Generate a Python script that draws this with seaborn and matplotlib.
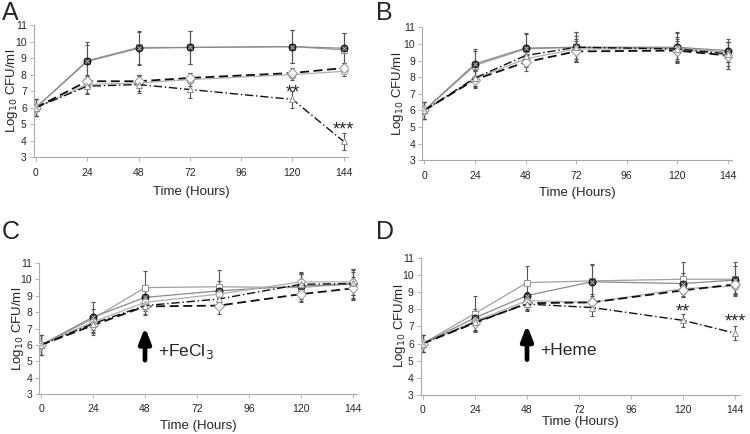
"""
Growth curves (Log10 CFU/ml over time) for four culture conditions, panels A-D
"""

import matplotlib

matplotlib.use("Agg")
import matplotlib.pyplot as plt
import seaborn as sns

# time points (hours)
TIME_AB = [0, 24, 48, 72, 120, 144]
TIME_C = [0, 24, 48, 82, 120, 144]
TIME_D = [0, 24, 48, 78, 120, 144]
X_TICKS = [0, 24, 48, 72, 96, 120, 144]
Y_TICKS = [3, 4, 5, 6, 7, 8, 9, 10, 11]

# panel A
A_SQ = [6.0, 8.85, 9.65, 9.65, 9.7, 9.5]
A_DOT = [6.0, 8.8, 9.6, 9.65, 9.7, 9.6]
A_CIR = [6.0, 7.4, 7.5, 7.7, 8.0, 8.2]
A_DIA = [6.0, 7.6, 7.6, 7.8, 8.1, 8.4]
A_TRI = [6.0, 7.3, 7.4, 7.1, 6.5, 3.95]
A_SQ_ERR = [0.5, 1.1, 1.0, 1.0, 1.0, 1.0]
A_DOT_ERR = [0.5, 1.0, 1.0, 1.0, 1.0, 0.9]
A_CIR_ERR = [0.5, 0.5, 0.5, 0.4, 0.3, 0.3]
A_DIA_ERR = [0.5, 0.4, 0.4, 0.3, 0.3, 0.3]
A_TRI_ERR = [0.5, 0.5, 0.5, 0.5, 0.5, 0.5]

# panel B
B_SQ = [6.0, 8.7, 9.7, 9.8, 9.75, 9.5]
B_DOT = [6.0, 8.8, 9.75, 9.8, 9.8, 9.6]
B_CIR = [6.0, 7.9, 9.1, 9.7, 9.7, 9.3]
B_DIA = [6.0, 7.85, 8.9, 9.55, 9.6, 9.3]
B_TRI = [6.0, 7.95, 9.3, 9.8, 9.7, 9.4]
B_SQ_ERR = [0.5, 0.9, 0.9, 0.9, 0.9, 0.6]
B_DOT_ERR = [0.5, 0.9, 0.9, 0.9, 0.9, 0.7]
B_CIR_ERR = [0.5, 0.5, 0.5, 0.6, 0.6, 0.8]
B_DIA_ERR = [0.5, 0.5, 0.5, 0.6, 0.6, 0.8]
B_TRI_ERR = [0.5, 0.5, 0.6, 0.7, 0.7, 0.7]

# panel C (+FeCl3 at 48 h)
C_SQ = [6.0, 7.6, 9.5, 9.55, 9.5, 9.75]
C_DOT = [6.0, 7.7, 8.9, 9.3, 9.6, 9.7]
C_CIR = [6.0, 7.4, 8.6, 9.1, 9.85, 9.85]
C_DIA = [6.0, 7.2, 8.35, 8.4, 9.1, 9.45]
C_TRI = [6.0, 7.3, 8.4, 8.8, 9.7, 9.75]
C_SQ_ERR = [0.6, 1.0, 1.0, 1.0, 0.8, 0.9]
C_DOT_ERR = [0.6, 0.5, 0.6, 0.6, 0.8, 0.9]
C_CIR_ERR = [0.6, 0.5, 0.5, 0.5, 0.6, 0.8]
C_DIA_ERR = [0.6, 0.5, 0.5, 0.5, 0.5, 0.7]
C_TRI_ERR = [0.6, 0.5, 0.5, 0.5, 0.6, 0.7]

# panel D (+Heme at 48 h)
D_SQ = [6.0, 7.75, 9.55, 9.65, 9.75, 9.75]
D_DOT = [6.0, 7.5, 8.8, 9.6, 9.5, 9.7]
D_CIR = [6.0, 7.3, 8.5, 8.4, 9.2, 9.35]
D_DIA = [6.0, 7.2, 8.35, 8.4, 9.1, 9.45]
D_TRI = [6.0, 7.25, 8.3, 8.1, 7.35, 6.6]
D_SQ_ERR = [0.5, 1.0, 1.0, 1.0, 1.0, 1.0]
D_DOT_ERR = [0.5, 0.5, 0.6, 1.0, 0.6, 0.8]
D_CIR_ERR = [0.5, 0.5, 0.5, 0.5, 0.5, 0.5]
D_DIA_ERR = [0.5, 0.5, 0.4, 0.4, 0.4, 0.5]
D_TRI_ERR = [0.5, 0.5, 0.4, 0.5, 0.4, 0.4]

# line / marker styles for the five series
STYLES = [
    dict(color="#a0a0a0", linestyle="-", lw=0.9, marker="s", mfc="white", mec="#909090"),
    dict(color="#8a8a8a", linestyle="-", lw=0.9, marker="o", mfc="#3a3a3a", mec="#111111"),
    dict(color="#b0b0b0", linestyle="-", lw=0.9, marker="o", mfc="white", mec="#909090"),
    dict(color="#111111", linestyle=(0, (5, 2.5)), lw=1.3, marker="D", mfc="white", mec="#909090"),
    dict(color="#111111", linestyle=(0, (6, 2, 1, 2)), lw=1.0, marker="^", mfc="white", mec="#909090"),
]

sns.set_style("ticks")
plt.rcParams["font.family"] = ["Liberation Sans", "DejaVu Sans"]

fig = plt.figure(figsize=(7.5, 4.34), dpi=100)

# letter, axes rect, letter position, ylabel x, xlabel y (axes fraction)
panels = [
    ("A", [0.045, 0.638, 0.419, 0.304], (0.002, 0.998), -0.07, -0.265, TIME_AB,
     [A_SQ, A_DOT, A_CIR, A_DIA, A_TRI],
     [A_SQ_ERR, A_DOT_ERR, A_CIR_ERR, A_DIA_ERR, A_TRI_ERR]),
    ("B", [0.563, 0.631, 0.413, 0.306], (0.502, 0.998), -0.077, -0.248, TIME_AB,
     [B_SQ, B_DOT, B_CIR, B_DIA, B_TRI],
     [B_SQ_ERR, B_DOT_ERR, B_CIR_ERR, B_DIA_ERR, B_TRI_ERR]),
    ("C", [0.052, 0.092, 0.424, 0.302], (0.002, 0.492), -0.066, -0.244, TIME_C,
     [C_SQ, C_DOT, C_CIR, C_DIA, C_TRI],
     [C_SQ_ERR, C_DOT_ERR, C_CIR_ERR, C_DIA_ERR, C_TRI_ERR]),
    ("D", [0.561, 0.090, 0.425, 0.316], (0.502, 0.492), -0.066, -0.197, TIME_D,
     [D_SQ, D_DOT, D_CIR, D_DIA, D_TRI],
     [D_SQ_ERR, D_DOT_ERR, D_CIR_ERR, D_DIA_ERR, D_TRI_ERR]),
]

axes = {}
for letter, rect, lpos, ylab_x, xlab_y, time, series, errors in panels:
    ax = fig.add_axes(rect)
    axes[letter] = ax
    for vals, errs, st in zip(series, errors, STYLES):
        ax.errorbar(time, vals, yerr=errs, fmt="none", ecolor="#555555",
                    elinewidth=0.8, capsize=1.5, capthick=0.8, zorder=1)
        sns.lineplot(x=time, y=vals, ax=ax, color=st["color"],
                     linestyle=st["linestyle"], linewidth=st["lw"],
                     marker=st["marker"], markersize=5,
                     markerfacecolor=st["mfc"], markeredgecolor=st["mec"],
                     markeredgewidth=0.7, zorder=3)
        if st["mfc"] != "white":
            # cross inside the dark circles
            sns.lineplot(x=time, y=vals, ax=ax, linestyle="none", marker="x",
                         markersize=2.8, markeredgecolor="#bbbbbb",
                         markeredgewidth=0.6, zorder=4)

    ax.set_xlim(-1, 146)
    ax.set_ylim(3, 11)
    ax.set_xticks(X_TICKS)
    ax.set_yticks(Y_TICKS)
    ax.tick_params(labelsize=7.5, length=3, width=0.6, color="#aaaaaa")
    ax.tick_params(axis="x", pad=4.5)
    ax.tick_params(axis="y", pad=2)
    for side in ["left", "bottom"]:
        ax.spines[side].set_color("#aaaaaa")
        ax.spines[side].set_linewidth(0.8)
    sns.despine(ax=ax)
    ax.set_xlabel("Time (Hours)", fontsize=9.5)
    ax.set_ylabel("Log$_{10}$ CFU/ml", fontsize=9.5)
    ax.xaxis.set_label_coords(0.5, xlab_y)
    ax.xaxis.label.set_verticalalignment("center")
    ax.yaxis.set_label_coords(ylab_x, 0.5)
    ax.yaxis.label.set_verticalalignment("center")

    fig.text(lpos[0], lpos[1], letter, fontsize=18, va="top", ha="left")

# significance marks (baseline placed so the stars sit above the error bars)
axes["A"].text(120, 6.63, "**", ha="center", va="baseline", fontsize=13)
axes["A"].text(144, 4.35, "***", ha="center", va="baseline", fontsize=13)
axes["D"].text(120, 7.55, "**", ha="center", va="baseline", fontsize=13)
axes["D"].text(144, 6.98, "***", ha="center", va="baseline", fontsize=13)

# supplement arrows
for letter, label in [("C", "+FeCl$_3$"), ("D", "+Heme")]:
    ax = axes[letter]
    ax.annotate("", xy=(48, 7.25), xytext=(48, 4.9),
                arrowprops=dict(arrowstyle="-|>,head_width=0.35,head_length=0.9",
                                color="black", lw=3.4))
    ax.text(54, 5.6, label, fontsize=12.5, va="center", ha="left")

plt.savefig("out.png", dpi=100)
